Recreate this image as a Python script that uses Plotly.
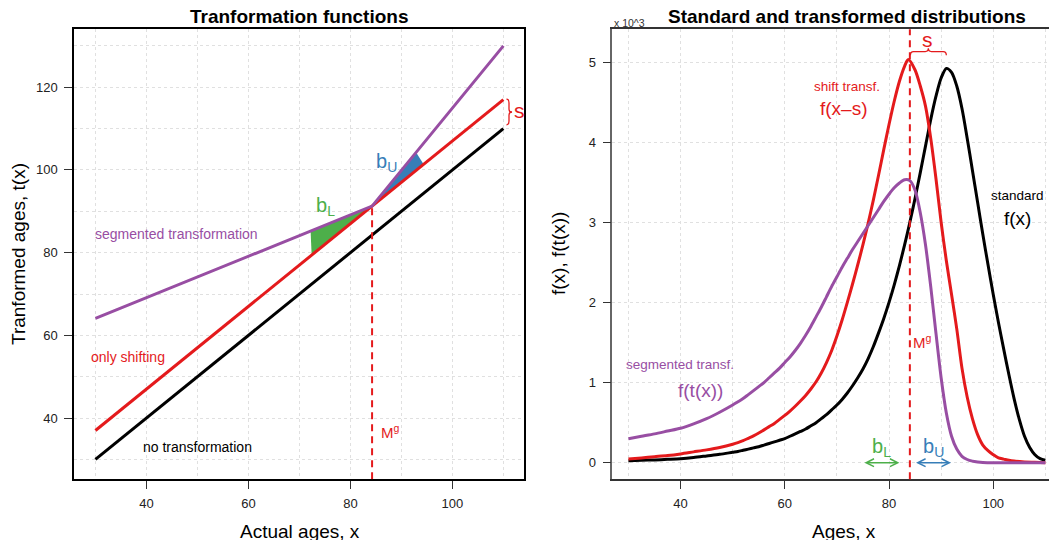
import plotly.graph_objects as go

W, H = 1049, 540
FONT = "Liberation Sans, Arial, sans-serif"
PURPLE = "#984EA3"
RED = "#E41A1C"
GREEN = "#4DAF4A"
BLUE = "#377EB8"
GRID = "#e0e0e0"

# ---------------- left panel data (transformation functions) ----------------
age_pts = [30, 84.25, 110]
no_transf = [30, 84.25, 110]
shift_transf = [37, 91.25, 117]
segmented_transf = [64.1, 91.25, 130]
MG_L = 84.25
green_x = [72.2, 84.25, 72.4]
green_y = [85.2, 91.25, 79.4]
blue_x = [84.25, 92.9, 94.35]
blue_y = [91.25, 104.2, 101.35]

# ---------------- right panel data (densities, x 10^3) ----------------
std_x = [30, 32.5, 35, 37.5, 40, 42.5, 45, 47.5, 50, 51, 52, 53, 54, 55, 56, 57, 58, 59, 60, 61,
         62, 63, 64, 65, 66, 67, 68, 69, 70, 71, 72, 73, 74, 75, 76, 77, 78, 79, 80, 81, 82, 83,
         84, 85, 86, 87, 88, 89, 90, 91, 92, 93, 94, 95, 96, 97, 98, 99, 100, 101, 102, 103,
         104, 105, 106, 107, 108, 109, 110]
std_y = [0.025, 0.03, 0.035, 0.042, 0.05, 0.065, 0.085, 0.105, 0.13, 0.14, 0.155, 0.17, 0.185,
         0.2, 0.22, 0.24, 0.26, 0.28, 0.30, 0.33, 0.36, 0.39, 0.42, 0.46, 0.50, 0.55, 0.60,
         0.66, 0.72, 0.79, 0.87, 0.96, 1.06, 1.17, 1.30, 1.45, 1.62, 1.80, 2.0, 2.22, 2.46,
         2.72, 3.0, 3.3, 3.62, 3.95, 4.28, 4.57, 4.8, 4.92, 4.87, 4.7, 4.42, 4.05, 3.65, 3.25,
         2.85, 2.47, 2.1, 1.75, 1.42, 1.1, 0.8, 0.54, 0.33, 0.19, 0.1, 0.05, 0.03]

shift_x = [30, 32.5, 35, 37.5, 40, 42.5, 45, 47.5, 50, 51, 52, 53, 54, 55, 56, 57, 58, 59, 60,
           61, 62, 63, 64, 65, 66, 67, 68, 69, 70, 71, 72, 73, 74, 75, 76, 77, 78, 79, 80, 81,
           82, 83, 83.7, 85, 86, 87, 88, 89, 90, 91, 92, 93, 94, 95, 96, 97, 98, 99, 100, 101,
           102, 103, 104, 106, 108, 110]
shift_y = [0.046, 0.06, 0.075, 0.09, 0.11, 0.135, 0.16, 0.19, 0.23, 0.25, 0.275, 0.305, 0.335,
           0.37, 0.41, 0.45, 0.49, 0.54, 0.59, 0.645, 0.705, 0.77, 0.84, 0.92, 1.01, 1.12,
           1.25, 1.40, 1.58, 1.78, 2.0, 2.23, 2.47, 2.72, 2.99, 3.28, 3.59, 3.91, 4.22, 4.51,
           4.76, 4.95, 5.03, 4.90, 4.70, 4.45, 4.05, 3.55, 3.0, 2.52, 2.1, 1.67, 1.18, 0.82,
           0.55, 0.35, 0.22, 0.15, 0.1, 0.06, 0.045, 0.03, 0.02, 0.01, 0.005, 0.0]

seg_x = [30, 32.5, 35, 37.5, 40, 42.5, 45, 47.5, 50, 51, 52, 53, 54, 55, 56, 57, 58, 59, 60, 61,
         62, 63, 64, 65, 66, 67, 68, 69, 70, 71, 72, 73, 74, 75, 76, 77, 78, 79, 80, 81, 82, 83,
         84, 85, 86, 87, 88, 89, 90, 91, 92, 93, 94, 95, 96, 97, 98, 100, 105, 110]
seg_y = [0.30, 0.33, 0.36, 0.395, 0.43, 0.485, 0.55, 0.63, 0.72, 0.76, 0.80, 0.85, 0.90, 0.95,
         1.0, 1.06, 1.12, 1.18, 1.25, 1.32, 1.40, 1.49, 1.59, 1.70, 1.82, 1.94, 2.07, 2.20,
         2.32, 2.44, 2.55, 2.66, 2.76, 2.86, 2.96, 3.06, 3.16, 3.26, 3.35, 3.43, 3.49, 3.53,
         3.52, 3.40, 3.12, 2.72, 2.20, 1.62, 1.06, 0.62, 0.33, 0.17, 0.08, 0.04, 0.02, 0.01,
         0.004, 0.0, 0.0, 0.0]
MG_R = 84.0

# tick labels / grid positions
x_ticks = [40, 60, 80, 100]
x_grid_minor = [30, 50, 70, 90, 110]
yl_ticks = [40, 60, 80, 100, 120]
yl_grid_minor = [30, 50, 70, 90, 110, 130]
yr_ticks = [0, 1, 2, 3, 4, 5]

XL_RANGE = [25.8, 114.1]
YL_RANGE = [25.2, 134.0]
XR_RANGE = [26.9, 110.7]
YR_RANGE = [-0.207, 5.408]


def px(v):
    return v / W


def py(v):
    return 1 - v / H


fig = go.Figure()

# fills (left)
fig.add_trace(go.Scatter(x=green_x, y=green_y, fill="toself", fillcolor=GREEN, mode="none",
                         xaxis="x", yaxis="y", showlegend=False, hoverinfo="skip"))
fig.add_trace(go.Scatter(x=blue_x, y=blue_y, fill="toself", fillcolor=BLUE, mode="none",
                         xaxis="x", yaxis="y", showlegend=False, hoverinfo="skip"))
# lines (left)
for yy, col in [(no_transf, "black"), (shift_transf, RED), (segmented_transf, PURPLE)]:
    fig.add_trace(go.Scatter(x=age_pts, y=yy, mode="lines", line=dict(color=col, width=3),
                             xaxis="x", yaxis="y", showlegend=False))

# curves (right)
for xx, yy, col in [(std_x, std_y, "black"), (shift_x, shift_y, RED), (seg_x, seg_y, PURPLE)]:
    fig.add_trace(go.Scatter(x=xx, y=yy, mode="lines",
                             line=dict(color=col, width=3, shape="spline", smoothing=0.8),
                             xaxis="x2", yaxis="y2", showlegend=False))

ydom = [py(479.3), py(29.3)]
tickfont = dict(family=FONT, size=13, color="#222")
common_ax = dict(ticks="outside", ticklen=8, tickwidth=1, tickcolor="#333", tickfont=tickfont,
                 showgrid=True, gridcolor=GRID, griddash="dot", gridwidth=1, zeroline=False,
                 showline=True, linewidth=1.5)

fig.update_layout(
    width=W, height=H, margin=dict(l=0, r=0, t=0, b=0),
    paper_bgcolor="white", plot_bgcolor="white",
    xaxis=dict(domain=[px(74), px(524.3)], range=XL_RANGE, anchor="y", tickmode="array",
               tickvals=x_ticks, mirror=True, linecolor="black", ticklabelstandoff=3,
               minor=dict(tickvals=x_grid_minor, showgrid=True, gridcolor=GRID, griddash="dot",
                          ticklen=0),
               **common_ax),
    yaxis=dict(domain=ydom, range=YL_RANGE, anchor="x", tickmode="array", tickvals=yl_ticks,
               mirror=True, linecolor="black", ticklabelstandoff=4,
               minor=dict(tickvals=yl_grid_minor, showgrid=True, gridcolor=GRID, griddash="dot",
                          ticklen=0),
               **common_ax),
    xaxis2=dict(domain=[px(612.3), 1.0], range=XR_RANGE, anchor="y2", tickmode="array",
                tickvals=x_ticks, mirror=True, linecolor="#333", ticklabelstandoff=3,
                minor=dict(tickvals=x_grid_minor, showgrid=True, gridcolor=GRID, griddash="dot",
                           ticklen=0),
                **common_ax),
    yaxis2=dict(domain=ydom, range=YR_RANGE, anchor="x2", tickmode="array", tickvals=yr_ticks,
                mirror=False, linecolor="#666", ticklabelstandoff=4, **common_ax),
)

shapes = []
# Mg dashed lines
shapes.append(dict(type="line", xref="x", yref="y", x0=MG_L, x1=MG_L, y0=YL_RANGE[0],
                   y1=shift_transf[1], line=dict(color=RED, width=2, dash="7px,5px")))
shapes.append(dict(type="line", xref="x2", yref="y2 domain", x0=MG_R, x1=MG_R, y0=0, y1=1,
                   line=dict(color=RED, width=2, dash="7px,5px")))

# left brace (vertical, between shifted and standard line at x=110)
bx0, btop, bbot = 110.6, shift_transf[2] + 0.1, no_transf[2] + 0.9
bmid = (btop + bbot) / 2
shapes.append(dict(type="path", xref="x", yref="y", line=dict(color=RED, width=1.3),
                   path=(f"M{bx0},{btop} Q{bx0+0.5},{btop} {bx0+0.5},{btop-0.9} "
                         f"L{bx0+0.5},{bmid+0.7} Q{bx0+0.5},{bmid} {bx0+1.1},{bmid} "
                         f"Q{bx0+0.5},{bmid} {bx0+0.5},{bmid-0.7} "
                         f"L{bx0+0.5},{bbot+0.9} Q{bx0+0.5},{bbot} {bx0},{bbot}")))
# right brace (horizontal, from Mg to the standard peak)
rx0 = MG_R + 0.1
rx1 = std_x[std_y.index(max(std_y))]
rxm = (rx0 + rx1) / 2
yend, ybar, ytip = 5.085, 5.13, 5.17
shapes.append(dict(type="path", xref="x2", yref="y2", line=dict(color=RED, width=1.3),
                   path=(f"M{rx0},{yend} Q{rx0},{ybar} {rx0+0.6},{ybar} "
                         f"L{rxm-0.6},{ybar} Q{rxm},{ybar} {rxm},{ytip} "
                         f"Q{rxm},{ybar} {rxm+0.6},{ybar} "
                         f"L{rx1-0.6},{ybar} Q{rx1},{ybar} {rx1},{yend}")))
fig.update_layout(shapes=shapes)

ann = []


def txt(x, y, s, size, color, xref="x", yref="y", xanchor="left", yanchor="middle", **kw):
    ann.append(dict(x=x, y=y, text=s, xref=xref, yref=yref, showarrow=False, xanchor=xanchor,
                    yanchor=yanchor, font=dict(family=FONT, size=size, color=color), **kw))


# titles
txt(px(299.5), py(17), "<b>Tranformation functions</b>", 19, "black", "paper", "paper", "center")
txt(px(847), py(17), "<b>Standard and transformed distributions</b>", 19, "black", "paper", "paper",
    "center")
txt(px(299.5), py(531), "Actual ages, x", 19, "black", "paper", "paper", "center")
txt(px(844), py(531), "Ages, x", 19, "black", "paper", "paper", "center")
txt(px(19), py(254), "Tranformed ages, t(x)", 19, "black", "paper", "paper", "center", textangle=-90)
txt(px(559), py(254), "f(x), f(t(x))", 19, "black", "paper", "paper", "center", textangle=-90)
txt(px(612), py(22.7), "x 10^3", 10.5, "#333", "paper", "paper", "left")

# left panel labels
txt(29.6, 84.4, "segmented transformation", 14, PURPLE)
txt(28.8, 54.8, "only shifting", 14, RED)
txt(38.9, 32.9, "no transformation", 14, "black")
txt(85.6, 36.8, "M<sup>g</sup>", 15, RED)
txt(72.9, 91.2, "b<sub>L</sub>", 20, GREEN)
txt(84.7, 101.9, "b<sub>U</sub>", 20, BLUE)
txt(111.7, 114.3, "s", 21, RED)

# right panel labels
txt(71.85, 4.70, "shift transf.", 13.5, RED, "x2", "y2", "center")
txt(71.3, 4.42, "f(x\u2013s)", 19, RED, "x2", "y2", "center")
txt(104.75, 3.34, "standard", 13.5, "black", "x2", "y2", "center")
txt(104.6, 3.05, "f(x)", 19, "black", "x2", "y2", "center")
txt(39.95, 1.22, "segmented transf.", 13.5, PURPLE, "x2", "y2", "center")
txt(43.9, 0.905, "f(t(x))", 19, PURPLE, "x2", "y2", "center")
txt(84.2, 1.51, "M<sup>g</sup>", 15, RED, "x2", "y2", "left")
txt(78.5, 0.19, "b<sub>L</sub>", 20, GREEN, "x2", "y2", "center")
txt(88.5, 0.19, "b<sub>U</sub>", 20, BLUE, "x2", "y2", "center")
txt(87.45, 5.28, "s", 21, RED, "x2", "y2", "center")

# double arrows for bL / bU
for (a, b, col) in [(75.0, 82.0, GREEN), (84.9, 91.9, BLUE)]:
    ann.append(dict(x=b, y=0, ax=a, ay=0, xref="x2", yref="y2", axref="x2", ayref="y2",
                    text="", showarrow=True, arrowside="end+start", arrowhead=5,
                    startarrowhead=5, arrowsize=1.1, startarrowsize=1.1, arrowwidth=1.4,
                    arrowcolor=col, standoff=0, startstandoff=0))

fig.update_layout(annotations=ann)
fig.write_html("out.html", config={"displayModeBar": False},
               post_script="document.body.style.margin='0';document.body.style.padding='0';")
